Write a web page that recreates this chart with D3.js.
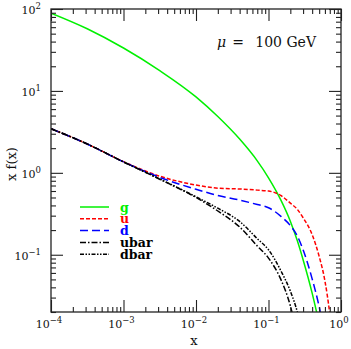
<!DOCTYPE html>
<html>
<head>
<meta charset="utf-8">
<script src="https://cdn.jsdelivr.net/npm/d3@7"></script>
<style>
  body { margin: 0; background: #fff; }
  svg { display: block; }
  .tick text { display: none; }
  .domain { display: none; }
</style>
</head>
<body>
<svg id="chart" width="351" height="349"></svg>
<script>
// x grid shared by all series
var xs   = [1e-4, 3.16e-4, 1e-3, 3.16e-3, 0.01, 0.02, 0.04, 0.07, 0.1, 0.15, 0.2, 0.25, 0.3, 0.4, 0.5, 0.6, 0.7, 0.8];
var g    = [89, 57.4, 33.4, 17.7, 8.45, 4.86, 2.58, 1.40, 0.87, 0.455, 0.257, 0.148, 0.087, 0.034, 0.0145, 0.007, 0.003, 0.001];
var u    = [3.45, 2.25, 1.37, 0.91, 0.71, 0.65, 0.635, 0.615, 0.60, 0.525, 0.427, 0.358, 0.283, 0.176, 0.0955, 0.048, 0.019, 0.006];
var d    = [3.45, 2.25, 1.36, 0.88, 0.63, 0.53, 0.465, 0.41, 0.375, 0.292, 0.227, 0.169, 0.115, 0.0508, 0.0231, 0.01, 0.004, 0.001];
var ubar = [3.45, 2.25, 1.36, 0.835, 0.50, 0.342, 0.218, 0.128, 0.091, 0.0486, 0.0238, 0.01, 0.004, 0.001];
var dbar = [3.45, 2.25, 1.36, 0.843, 0.51, 0.37, 0.255, 0.157, 0.115, 0.0624, 0.036, 0.020, 0.010, 0.003, 0.001];

var seriesNames = ["g", "u", "d", "ubar", "dbar"];
var xMajor = [1e-4, 1e-3, 1e-2, 1e-1, 1];
var xExp   = ["\u22124", "\u22123", "\u22122", "\u22121", "0"];
var yMajor = [0.1, 1, 10, 100];
var yExp   = ["\u22121", "0", "1", "2"];

var svg = d3.select("#chart");
// plot box (note: "top" is reserved on window, so use pl/pr/pt/pb)
var pl = 51, pr = 341, pt = 9, pb = 312;

var x = d3.scaleLog().domain([1e-4, 1]).range([pl, pr]);
var y = d3.scaleLog().domain([0.02, 100]).range([pb, pt]);

var styles = {
    g:    {color: "#00f000", dash: null},
    u:    {color: "#ff0000", dash: "4,2"},
    d:    {color: "#0000ff", dash: "8,4"},
    ubar: {color: "#000000", dash: "6,2,1.5,2"},
    dbar: {color: "#000000", dash: "4,1.5,1.5,1.5,1.5,1.5"}
};
var values = {g: g, u: u, d: d, ubar: ubar, dbar: dbar};

svg.append("clipPath").attr("id", "clip")
    .append("rect")
    .attr("x", pl).attr("y", pt)
    .attr("width", pr - pl).attr("height", pb - pt);

var line = d3.line()
    .x(function(p) { return x(p[0]); })
    .y(function(p) { return y(p[1]); })
    .curve(d3.curveMonotoneX);

var plot = svg.append("g").attr("clip-path", "url(#clip)");
seriesNames.forEach(function(name) {
    var pts = values[name].map(function(v, i) { return [xs[i], v]; });
    plot.append("path")
        .attr("d", line(pts))
        .attr("fill", "none")
        .attr("stroke", styles[name].color)
        .attr("stroke-width", 1.5)
        .attr("stroke-dasharray", styles[name].dash);
});

// minor tick values (2..9 of each decade)
var xMinor = x.ticks().filter(function(v) { return xMajor.indexOf(v) < 0; });
var yMinor = y.ticks().filter(function(v) { return yMajor.indexOf(v) < 0; });

function addAxis(axisFn, scale, vals, size, transform) {
    svg.append("g")
        .attr("transform", transform)
        .call(axisFn(scale).tickValues(vals).tickSize(size).tickFormat(""))
        .selectAll("line").attr("stroke", "#222").attr("stroke-width", 1.1);
}
addAxis(d3.axisBottom, x, xMinor, -5, "translate(0," + pb + ")");
addAxis(d3.axisBottom, x, xMajor, -12, "translate(0," + pb + ")");
addAxis(d3.axisTop, x, xMinor, -5, "translate(0," + pt + ")");
addAxis(d3.axisTop, x, xMajor, -12, "translate(0," + pt + ")");
addAxis(d3.axisLeft, y, yMinor, -5, "translate(" + pl + ",0)");
addAxis(d3.axisLeft, y, yMajor, -12, "translate(" + pl + ",0)");
addAxis(d3.axisRight, y, yMinor, -5, "translate(" + pr + ",0)");
addAxis(d3.axisRight, y, yMajor, -12, "translate(" + pr + ",0)");

svg.append("rect")
    .attr("x", pl).attr("y", pt)
    .attr("width", pr - pl).attr("height", pb - pt)
    .attr("fill", "none").attr("stroke", "#222").attr("stroke-width", 1.3);

var font = "'DejaVu Serif', serif";

// x tick labels
xMajor.forEach(function(v, i) {
    var t = svg.append("text")
        .attr("x", x(v) - 2).attr("y", 328)
        .attr("text-anchor", "middle")
        .attr("font-family", font).attr("font-size", 11).attr("fill", "#111");
    t.append("tspan").text("10");
    t.append("tspan").attr("dy", -5).attr("font-size", 8.5).text(xExp[i]);
});

// y tick labels
yMajor.forEach(function(v, i) {
    var t = svg.append("text")
        .attr("x", 41).attr("y", y(v) + 5)
        .attr("text-anchor", "end")
        .attr("font-family", font).attr("font-size", 11).attr("fill", "#111");
    t.append("tspan").text("10");
    t.append("tspan").attr("dy", -5).attr("font-size", 8.5).text(yExp[i]);
});

// axis titles
svg.append("text")
    .attr("x", 194).attr("y", 345)
    .attr("text-anchor", "middle")
    .attr("font-family", font).attr("font-size", 13).attr("fill", "#111")
    .text("x");
svg.append("text")
    .attr("transform", "translate(16,164) rotate(-90)")
    .attr("text-anchor", "middle")
    .attr("font-family", font).attr("font-size", 13).attr("fill", "#111")
    .text("x f(x)");

// scale annotation
svg.append("text")
    .attr("x", 217).attr("y", 47)
    .attr("font-family", font).attr("font-size", 14).attr("font-style", "italic")
    .attr("fill", "#111").text("\u03bc");
svg.append("text")
    .attr("x", 238).attr("y", 47)
    .attr("text-anchor", "middle")
    .attr("font-family", font).attr("font-size", 14).attr("fill", "#111").text("=");
svg.append("text")
    .attr("x", 316).attr("y", 47)
    .attr("text-anchor", "end")
    .attr("font-family", font).attr("font-size", 14).attr("fill", "#111").text("100 GeV");

// legend
var legend = svg.append("g");
seriesNames.forEach(function(name, i) {
    var ly = 207 + i * 11.8;
    legend.append("line")
        .attr("x1", 80).attr("x2", 109)
        .attr("y1", ly).attr("y2", ly)
        .attr("stroke", styles[name].color)
        .attr("stroke-width", 1.5)
        .attr("stroke-dasharray", styles[name].dash);
    legend.append("text")
        .attr("x", 120).attr("y", ly + 4.5)
        .attr("font-family", font).attr("font-size", 12.5)
        .attr("font-weight", "bold")
        .attr("fill", styles[name].color)
        .text(name);
});
</script>
</body>
</html>
